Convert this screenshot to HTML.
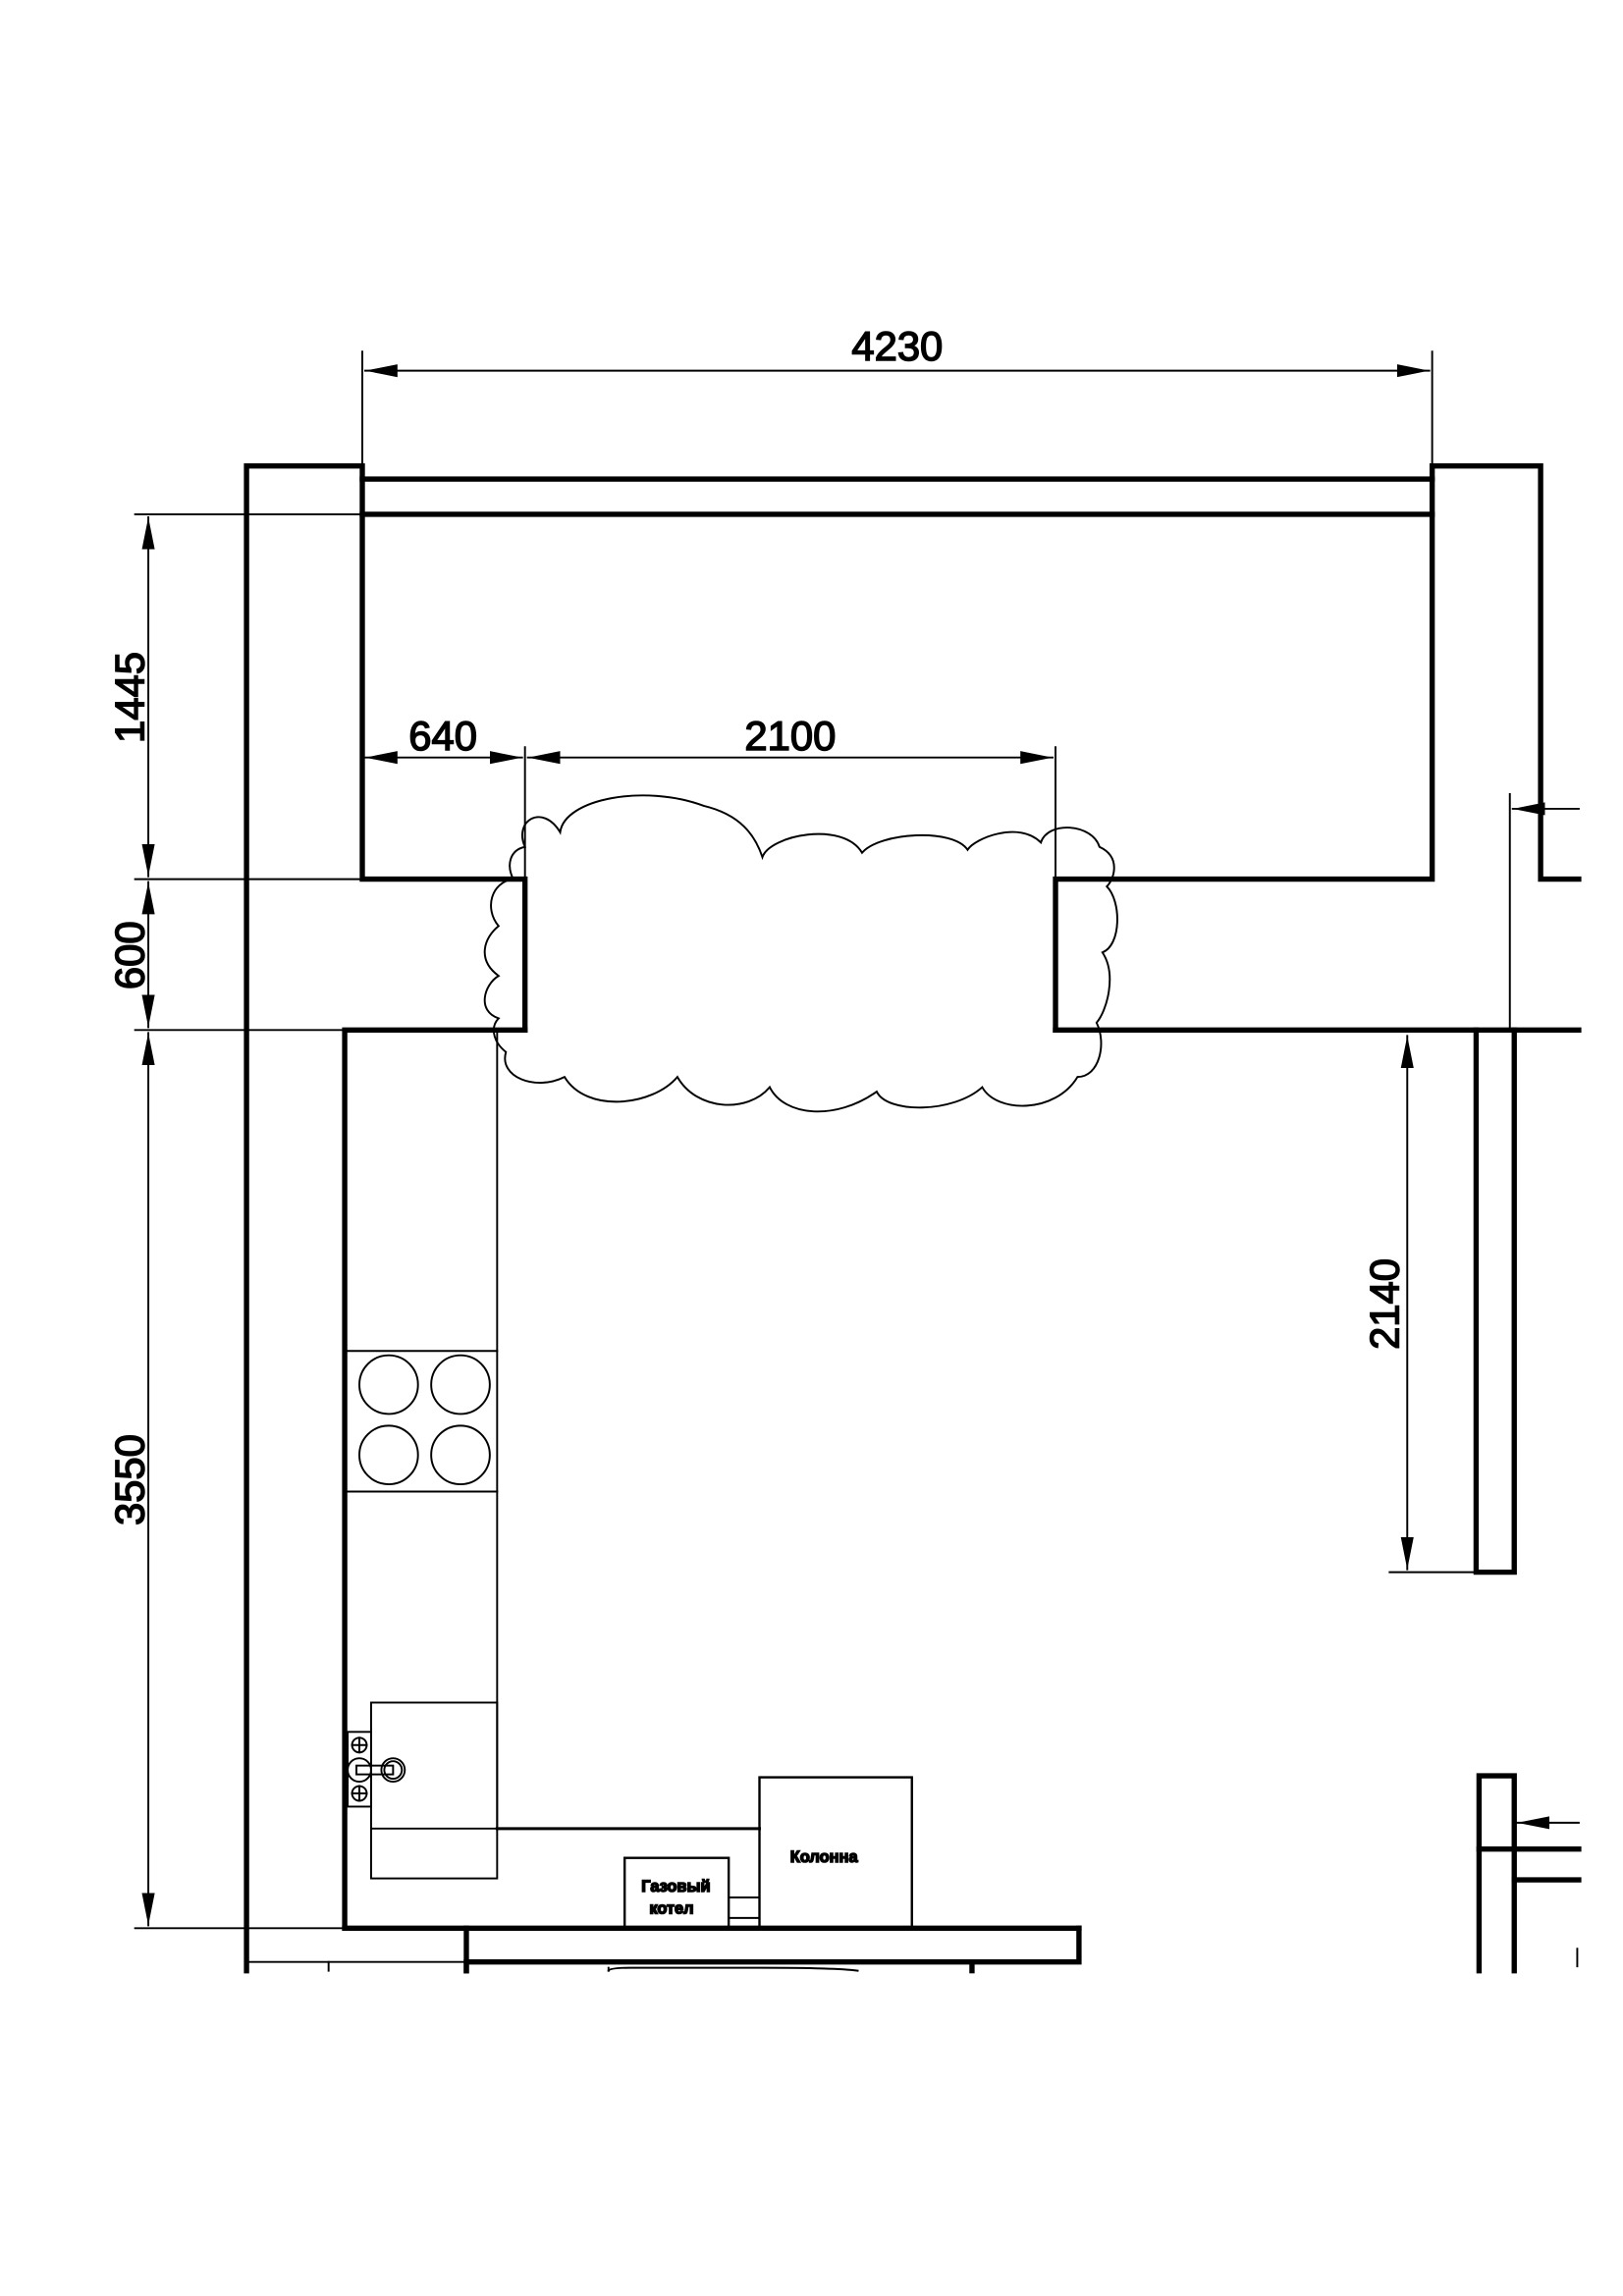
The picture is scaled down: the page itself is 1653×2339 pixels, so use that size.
<!DOCTYPE html>
<html><head><meta charset="utf-8"><style>html,body{margin:0;padding:0;background:#fff}svg{display:block}</style></head>
<body>
<svg width="1653" height="2339" viewBox="0 0 1107 1567" xmlns="http://www.w3.org/2000/svg">
<defs><marker id="a" viewBox="0 0 10 4" refX="10" refY="2" markerWidth="22" markerHeight="9" markerUnits="userSpaceOnUse" orient="auto-start-reverse"><path d="M0,0 L10,2 L0,4z" fill="#000"/></marker></defs>
<rect width="1107" height="1567" fill="#fff"/>
<g fill="none" stroke="#000" stroke-linecap="square">
<!-- thick walls -->
<g stroke-width="3.6">
<polyline points="168,1345 168,318 247,318 247,600 358,600 358,703"/>
<line x1="247" y1="327" x2="977" y2="327"/>
<line x1="247" y1="351" x2="977" y2="351"/>
<polyline points="720,703 720,600 977,600 977,318 1051,318 1051,600 1077,600"/>
<polyline points="235,1316 235,703 358,703"/>
<line x1="720" y1="703" x2="1077" y2="703"/>
<polyline points="1007,703 1007,1073 1033,1073 1033,703"/>
<line x1="235" y1="1316" x2="736" y2="1316"/>
<polyline points="318,1345 318,1339 736,1339 736,1316"/>
<line x1="318" y1="1316" x2="318" y2="1345"/>
<line x1="663" y1="1339" x2="663" y2="1345"/>
<polyline points="1009,1345 1009,1212 1033,1212 1033,1345"/>
<line x1="1009" y1="1262" x2="1077" y2="1262"/>
<line x1="1033" y1="1283" x2="1077" y2="1283"/>
<line x1="339" y1="1248" x2="518" y2="1248" stroke-width="2"/>
</g>
<!-- thin -->
<g stroke-width="1.3">
<line x1="247" y1="240" x2="247" y2="318"/>
<line x1="977" y1="240" x2="977" y2="318"/>
<line x1="249" y1="253" x2="975" y2="253" marker-start="url(#a)" marker-end="url(#a)"/>
<line x1="92" y1="351" x2="247" y2="351"/>
<line x1="92" y1="600" x2="247" y2="600"/>
<line x1="92" y1="703" x2="235" y2="703"/>
<line x1="92" y1="1316" x2="235" y2="1316"/>
<line x1="101" y1="353" x2="101" y2="598" marker-start="url(#a)" marker-end="url(#a)"/>
<line x1="101" y1="602" x2="101" y2="701" marker-start="url(#a)" marker-end="url(#a)"/>
<line x1="101" y1="705" x2="101" y2="1314" marker-start="url(#a)" marker-end="url(#a)"/>
<line x1="358" y1="510" x2="358" y2="600"/>
<line x1="720" y1="510" x2="720" y2="600"/>
<line x1="249" y1="517" x2="356" y2="517" marker-start="url(#a)" marker-end="url(#a)"/>
<line x1="360" y1="517" x2="718" y2="517" marker-start="url(#a)" marker-end="url(#a)"/>
<line x1="1030" y1="542" x2="1030" y2="703"/>
<line x1="1077" y1="552" x2="1032" y2="552" marker-end="url(#a)"/>
<line x1="948" y1="1073" x2="1007" y2="1073"/>
<line x1="960" y1="707" x2="960" y2="1071" marker-start="url(#a)" marker-end="url(#a)"/>
<line x1="1077" y1="1244" x2="1035" y2="1244" marker-end="url(#a)"/>
<line x1="1076" y1="1330" x2="1076" y2="1342"/>
<line x1="168" y1="1339" x2="318" y2="1339"/>
<line x1="224" y1="1339" x2="224" y2="1345"/>
<line x1="339" y1="703" x2="339" y2="1248"/>
<line x1="235" y1="922" x2="339" y2="922"/>
<line x1="235" y1="1018" x2="339" y2="1018"/>
<circle cx="265" cy="945" r="20"/><circle cx="314" cy="945" r="20"/>
<circle cx="265" cy="993" r="20"/><circle cx="314" cy="993" r="20"/>
<rect x="253" y="1162" width="86" height="120"/>
<line x1="253" y1="1248" x2="339" y2="1248"/>
<rect x="237" y="1182" width="16" height="51"/>
<circle cx="245" cy="1191" r="5"/><line x1="240" y1="1191" x2="250" y2="1191"/><line x1="245" y1="1186" x2="245" y2="1196"/>
<circle cx="245" cy="1224" r="5"/><line x1="240" y1="1224" x2="250" y2="1224"/><line x1="245" y1="1219" x2="245" y2="1229"/>
<circle cx="245" cy="1208" r="8"/><circle cx="268" cy="1208" r="8"/><circle cx="268" cy="1208" r="6"/>
<rect x="243" y="1205" width="25" height="6"/>
<rect x="518" y="1213" width="104" height="103" stroke-width="1.6"/>
<rect x="426" y="1268" width="71" height="48" stroke-width="1.6"/>
<line x1="497" y1="1295" x2="518" y2="1295"/><line x1="497" y1="1309" x2="518" y2="1309"/>
<line x1="415" y1="1345" x2="415" y2="1343"/><path d="M415,1345 Q416,1343 430,1343 L520,1343 Q570,1343 585,1345"/>
<!-- cloud -->
<path d="M358,578 C350,560 370,548 382,568 C385,545 440,535 480,550 C505,556 515,570 520,585 C525,570 575,560 588,582 C600,568 650,565 660,580 C665,572 695,560 710,575 C715,560 745,562 750,578 C765,585 760,600 755,605 C765,615 765,645 752,650 C762,665 755,690 748,698 C755,712 750,735 735,735 C720,760 680,760 670,742 C650,760 605,760 598,745 C570,765 535,762 525,742 C510,760 475,758 462,735 C445,755 400,760 385,735 C365,745 340,735 345,718 C335,710 335,700 340,695 C325,690 330,672 340,666 C325,655 330,640 340,632 C330,620 335,602 350,600 C345,590 348,580 358,578 Z"/>
</g>
<g font-family="Liberation Sans, DejaVu Sans, sans-serif" fill="#000">
<text x="612" y="246" font-size="28" text-anchor="middle">4230</text>
<text x="302" y="512" font-size="28" text-anchor="middle">640</text>
<text x="539" y="512" font-size="28" text-anchor="middle">2100</text>
<text transform="translate(98,476) rotate(-90)" font-size="28" text-anchor="middle">1445</text>
<text transform="translate(98,652) rotate(-90)" font-size="28" text-anchor="middle">600</text>
<text transform="translate(98,1010) rotate(-90)" font-size="28" text-anchor="middle">3550</text>
<text transform="translate(954,890) rotate(-90)" font-size="28" text-anchor="middle">2140</text>
<text x="562" y="1271" font-size="11" font-weight="bold" text-anchor="middle">Колонна</text>
<text x="461" y="1291" font-size="11" font-weight="bold" text-anchor="middle">Газовый</text>
<text x="458" y="1306" font-size="11" font-weight="bold" text-anchor="middle">котел</text>
</g>
</svg>
</body></html>
